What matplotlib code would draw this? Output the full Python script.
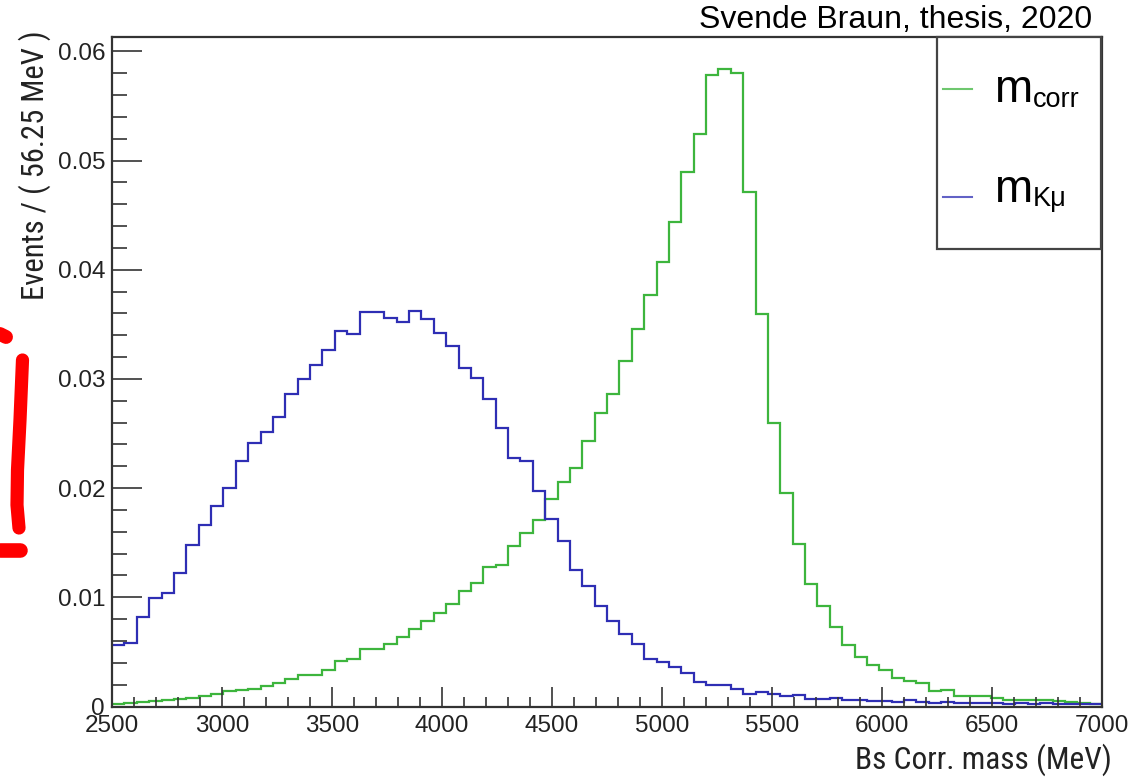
import numpy as np
import matplotlib
matplotlib.use("Agg")
import matplotlib.pyplot as plt
from matplotlib.ticker import MultipleLocator, FuncFormatter
from matplotlib.patches import Rectangle
from matplotlib.lines import Line2D
from matplotlib import font_manager
from matplotlib.font_manager import FontProperties

# ---------------- data ----------------
x_min, x_max, n_bins = 2500.0, 7000.0, 80
m_corr = [
    0.00024, 0.00028, 0.00040, 0.00048, 0.00060, 0.00070, 0.00077, 0.00092, 0.00116, 0.00140,
    0.00147, 0.00162, 0.00192, 0.00217, 0.00253, 0.00293, 0.00284, 0.00330, 0.00421, 0.00437,
    0.00528, 0.00530, 0.00574, 0.00641, 0.00711, 0.00782, 0.00855, 0.00940, 0.01057, 0.01133,
    0.01282, 0.01292, 0.01466, 0.01588, 0.01704, 0.01902, 0.02058, 0.02183, 0.02430, 0.02690,
    0.02858, 0.03160, 0.03456, 0.03765, 0.04070, 0.04436, 0.04894, 0.05240, 0.05780, 0.05841,
    0.05801, 0.04711, 0.03597, 0.02598, 0.01957, 0.01484, 0.01118, 0.00916, 0.00727, 0.00565,
    0.00452, 0.00382, 0.00336, 0.00260, 0.00229, 0.00214, 0.00140, 0.00153, 0.00100, 0.00095,
    0.00095, 0.00080, 0.00060, 0.00060, 0.00055, 0.00055, 0.00046, 0.00040, 0.00034, 0.00025,
]
m_kmu = [
    0.00565, 0.00583, 0.00818, 0.00992, 0.01041, 0.01221, 0.01475, 0.01658, 0.01832, 0.01997,
    0.02244, 0.02415, 0.02513, 0.02650, 0.02864, 0.02995, 0.03124, 0.03261, 0.03438, 0.03414,
    0.03612, 0.03615, 0.03560, 0.03517, 0.03624, 0.03548, 0.03423, 0.03298, 0.03102, 0.03011,
    0.02818, 0.02553, 0.02278, 0.02244, 0.01976, 0.01716, 0.01514, 0.01252, 0.01108, 0.00920,
    0.00779, 0.00660, 0.00568, 0.00437, 0.00406, 0.00366, 0.00309, 0.00223, 0.00199, 0.00201,
    0.00156, 0.00116, 0.00131, 0.00116, 0.00092, 0.00101, 0.00066, 0.00070, 0.00080, 0.00064,
    0.00055, 0.00046, 0.00046, 0.00040, 0.00061, 0.00040, 0.00035, 0.00045, 0.00030, 0.00030,
    0.00035, 0.00030, 0.00025, 0.00030, 0.00020, 0.00030, 0.00020, 0.00025, 0.00020, 0.00020,
]
legend_labels = [("m", "corr"), ("m", "Kμ")]
x_title = "Bs Corr. mass (MeV)"
y_title = "Events / ( 56.25 MeV )"
credit = "Svende Braun, thesis, 2020"

# ---------------- style ----------------
W, H = 1142, 781
names = {f.name for f in font_manager.fontManager.ttflist}
base_font = "Liberation Sans" if "Liberation Sans" in names else "DejaVu Sans"
plt.rcParams["font.family"] = [base_font, "DejaVu Sans"]

# look for a narrow / condensed sans face for the axis titles
pref = ["Liberation Sans Narrow", "Roboto Condensed", "Open Sans Condensed", "DejaVu Sans",
        "Noto Sans", "Roboto", "Open Sans", "Lato", "Inter", "Liberation Sans"]
cands = []
for f in font_manager.fontManager.ttflist:
    st = f.stretch
    is_cond = ("Narrow" in f.name or "Condensed" in f.name or "Narrow" in f.fname
               or "Condensed" in f.fname
               or (isinstance(st, str) and "condensed" in st and "semi" not in st)
               or (isinstance(st, (int, float)) and st < 500))
    if is_cond and f.style == "normal" and f.weight in (400, "normal", "regular", "book"):
        rank = next((i for i, p in enumerate(pref) if f.name.startswith(p)), 99)
        if "Serif" in f.name or "Mono" in f.name:
            rank += 200
        cands.append((rank, f.fname))
if cands:
    cands.sort()
    narrow_fp = FontProperties(fname=cands[0][1])
else:
    narrow_fp = FontProperties(family=base_font)

green = "#3db53d"
blue = "#2e2eb4"
frame_col = "#333333"

def fx(px):
    return px / W

def fy(py):
    return 1.0 - py / H

fig = plt.figure(figsize=(W / 100, H / 100), dpi=100)
ax_left, ax_right, ax_top, ax_bottom = 112, 1102, 37, 706.5
ax = fig.add_axes([fx(ax_left), fy(ax_bottom), fx(ax_right - ax_left), (ax_bottom - ax_top) / H])

edges = np.linspace(x_min, x_max, n_bins + 1)
ax.stairs(m_corr, edges, color=green, linewidth=1.6, baseline=None)
ax.stairs(m_kmu, edges, color=blue, linewidth=1.6, baseline=None)

ax.set_xlim(x_min, x_max)
ymax = (ax_bottom - ax_top) / 10920.0
ax.set_ylim(0, ymax)

ax.xaxis.set_major_locator(MultipleLocator(500))
ax.xaxis.set_minor_locator(MultipleLocator(100))
ax.yaxis.set_major_locator(MultipleLocator(0.01))
ax.yaxis.set_minor_locator(MultipleLocator(0.002))
ax.yaxis.set_major_formatter(FuncFormatter(lambda v, p: "0" if abs(v) < 1e-9 else f"{v:.2f}"))
ax.xaxis.set_major_formatter(FuncFormatter(lambda v, p: f"{int(round(v))}"))

ax.tick_params(axis="y", which="major", direction="in", length=21.6, width=1.2,
               color=frame_col, labelsize=17.5, pad=5, labelcolor="#222222")
ax.tick_params(axis="y", which="minor", direction="in", length=10.8, width=1.2, color=frame_col)
ax.tick_params(axis="x", which="major", direction="in", length=14.4, width=1.2,
               color=frame_col, labelsize=17.5, pad=6, labelcolor="#222222")
ax.tick_params(axis="x", which="minor", direction="in", length=7.2, width=1.2, color=frame_col)
ax.tick_params(top=False, right=False, which="both")
for s in ax.spines.values():
    s.set_color(frame_col)
    s.set_linewidth(1.6)

# axis titles (ROOT style, right / top aligned), sized to the reference extent
renderer = fig.canvas.get_renderer()

def fit_size(text_obj, target_px, horizontal=True, start=24.0):
    size = start
    text_obj.set_fontsize(size)
    for _ in range(4):
        bb = text_obj.get_window_extent(renderer)
        cur = bb.width if horizontal else bb.height
        if cur <= 0:
            break
        size = size * target_px / cur
        text_obj.set_fontsize(size)
    return size

xt = fig.text(fx(1112), fy(769), x_title, ha="right", va="baseline",
              fontproperties=narrow_fp, color="#222222")
fit_size(xt, 257, horizontal=True)
yt = fig.text(fx(35), fy(30), y_title, ha="center", va="top", rotation=90,
              fontproperties=narrow_fp, color="#222222")
fit_size(yt, 270, horizontal=False)

# credit
fig.text(fx(1092), fy(28), credit, ha="right", va="baseline", fontsize=23, color="black")

# legend box
leg_l, leg_r, leg_t, leg_b = 937, 1101, 37, 249
fig.patches.append(Rectangle((fx(leg_l), fy(leg_b)), fx(leg_r - leg_l), (leg_b - leg_t) / H,
                             transform=fig.transFigure, facecolor="white",
                             edgecolor="#444444", linewidth=1.6, zorder=5))
for (main, sub), col, yl, yb, ys in [(legend_labels[0], green, 89, 102, 107),
                                     (legend_labels[1], blue, 196.5, 202, 206)]:
    fig.lines.append(Line2D([fx(943), fx(972)], [fy(yl), fy(yl)], transform=fig.transFigure,
                            color=col, linewidth=1.5, alpha=0.75, zorder=6))
    fig.text(fx(994), fy(yb), main, ha="left", va="baseline", fontsize=33, color="black", zorder=6)
    fig.text(fx(1033), fy(ys), sub, ha="left", va="baseline", fontsize=19.5, color="black", zorder=6)

# red hand-drawn mark at the left edge
red = "#ff0000"
fig.lines.append(Line2D([fx(22.5), fx(20), fx(17.5), fx(17), fx(19)],
                        [fy(360), fy(420), fy(470), fy(505), fy(528)],
                        transform=fig.transFigure, color=red, linewidth=9.5,
                        solid_capstyle="round", solid_joinstyle="round"))
fig.lines.append(Line2D([fx(0), fx(6)], [fy(334), fy(337)], transform=fig.transFigure,
                        color=red, linewidth=10, solid_capstyle="round"))
fig.lines.append(Line2D([fx(0), fx(20)], [fy(550), fy(550)], transform=fig.transFigure,
                        color=red, linewidth=10.5, solid_capstyle="round"))

fig.savefig("out.png", dpi=100, facecolor="white")
